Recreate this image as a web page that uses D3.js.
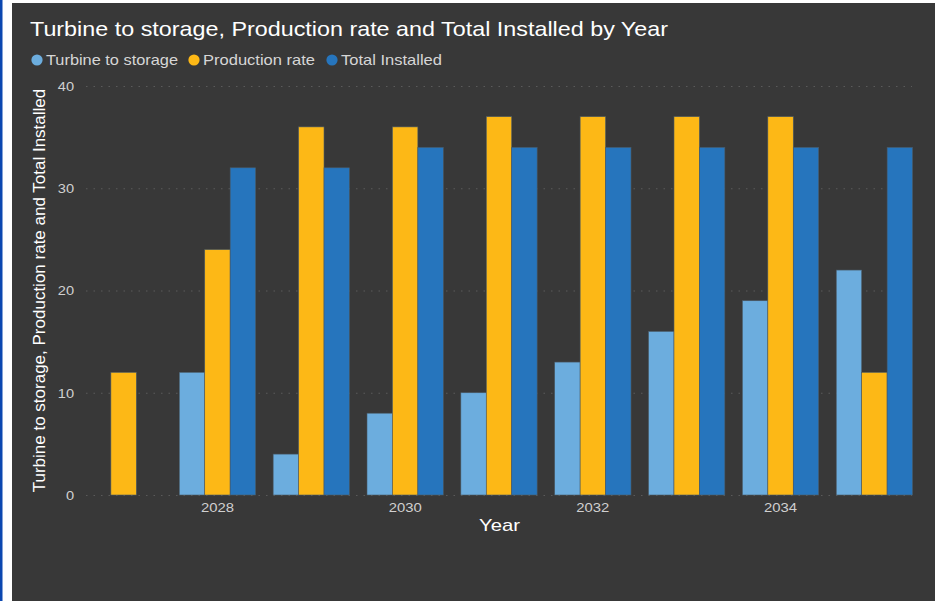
<!DOCTYPE html>
<html>
<head>
<meta charset="utf-8">
<script src="https://cdn.jsdelivr.net/npm/d3@7"></script>
<style>
  html, body { margin: 0; padding: 0; background: #ffffff; }
  svg { display: block; font-family: "Liberation Sans", Arial, sans-serif; }
</style>
</head>
<body>
<svg id="chart" width="935" height="601"></svg>
<script>
// Yearly figures for the three measures
const years = [2027, 2028, 2029, 2030, 2031, 2032, 2033, 2034, 2035];
const turbineToStorage = [null, 12, 4, 8, 10, 13, 16, 19, 22];
const productionRate = [12, 24, 36, 36, 37, 37, 37, 37, 12];
const totalInstalled = [null, 32, 32, 34, 34, 34, 34, 34, 34];

const seriesNames = ["Turbine to storage", "Production rate", "Total Installed"];
const seriesColors = ["#6cadde", "#fdb816", "#2675bd"];
const yTicks = [0, 10, 20, 30, 40];
const xTickLabels = [2028, 2030, 2032, 2034];

const seriesValues = [turbineToStorage, productionRate, totalInstalled];

const W = 935, H = 601;
const svg = d3.select("#chart");

// Frame: blue edge, white margin, dark card
svg.append("rect").attr("x", 0).attr("y", 0).attr("width", W).attr("height", H).attr("fill", "#ffffff");
svg.append("rect").attr("x", 0).attr("y", 0).attr("width", 2.5).attr("height", H).attr("fill", "#0b47b0");
svg.append("rect").attr("x", 12).attr("y", 3).attr("width", W - 12).attr("height", H - 3).attr("fill", "#383838");

const plot = { left: 77, right: 921, top: 86, bottom: 495 };

const x0 = d3.scaleBand().domain(years).range([plot.left, plot.right]).paddingInner(0.187).paddingOuter(0.09);
const x1 = d3.scaleBand().domain(d3.range(seriesNames.length)).range([0, x0.bandwidth()]);
const y = d3.scaleLinear().domain([0, 40]).range([plot.bottom, plot.top]);

// Title (the report font runs a little wider than Arial)
svg.append("text")
  .attr("x", 30).attr("y", 36)
  .attr("fill", "#ffffff")
  .attr("font-size", 21)
  .attr("textLength", 638).attr("lengthAdjust", "spacingAndGlyphs")
  .text("Turbine to storage, Production rate and Total Installed by Year");

// Legend
const legend = svg.append("g");
const legendX = [37, 194, 332];
const legendTextWidth = [132, 112, 101];
seriesNames.forEach((name, i) => {
  const g = legend.append("g").attr("transform", `translate(${legendX[i]},60)`);
  g.append("circle").attr("r", 5.6).attr("cx", 0).attr("cy", 0).attr("fill", seriesColors[i]);
  g.append("text").attr("x", 9).attr("y", 5).attr("fill", "#d6d6d6")
    .attr("font-size", 14.5)
    .attr("textLength", legendTextWidth[i]).attr("lengthAdjust", "spacingAndGlyphs")
    .text(name);
});

// Gridlines
const grid = svg.append("g");
grid.selectAll("line").data(yTicks).join("line")
  .attr("x1", 86).attr("x2", 912)
  .attr("y1", d => y(d) + 0.5).attr("y2", d => y(d) + 0.5)
  .attr("stroke", "#5a5a5a").attr("stroke-width", 1)
  .attr("stroke-dasharray", "1.5,6");

// Y axis tick labels
const yAxis = svg.append("g")
  .attr("transform", `translate(${74},0)`)
  .call(d3.axisLeft(y).tickValues(yTicks).tickSize(0).tickPadding(0));
yAxis.select(".domain").remove();
yAxis.selectAll("text").attr("fill", "#d0d0d0").attr("font-size", 13.5)
  .attr("font-family", "\"Liberation Sans\", Arial, sans-serif")
  .attr("transform", "scale(1.08,1)");

// X axis tick labels (center of each labelled year)
const xAxis = svg.append("g")
  .attr("transform", `translate(0,${plot.bottom})`)
  .call(d3.axisBottom(x0).tickValues(xTickLabels).tickSize(0).tickPadding(7));
xAxis.select(".domain").remove();
xAxis.selectAll("text").attr("fill", "#d0d0d0").attr("font-size", 13.5)
  .attr("font-family", "\"Liberation Sans\", Arial, sans-serif")
  .attr("transform", "scale(1.1,1)");

// Bars
const groups = svg.append("g").selectAll("g").data(years).join("g")
  .attr("transform", d => `translate(${x0(d)},0)`);
groups.selectAll("rect")
  .data((d, yi) => seriesValues.map((vals, si) => ({ si, v: vals[yi] })).filter(o => o.v != null))
  .join("rect")
  .attr("x", o => x1(o.si))
  .attr("width", x1.bandwidth())
  .attr("y", o => y(o.v))
  .attr("height", o => y(0) - y(o.v))
  .attr("fill", o => seriesColors[o.si])
  .attr("stroke", "#4a5a66")
  .attr("stroke-width", 0.6);

// Axis titles
svg.append("text")
  .attr("x", (plot.left + plot.right) / 2 + 0.5).attr("y", 531)
  .attr("text-anchor", "middle").attr("fill", "#ffffff").attr("font-size", 17)
  .attr("textLength", 41).attr("lengthAdjust", "spacingAndGlyphs")
  .text("Year");

svg.append("text")
  .attr("transform", `translate(45,${(plot.top + plot.bottom) / 2}) rotate(-90)`)
  .attr("text-anchor", "middle").attr("fill", "#ffffff").attr("font-size", 17)
  .text("Turbine to storage, Production rate and Total Installed");
</script>
</body>
</html>
